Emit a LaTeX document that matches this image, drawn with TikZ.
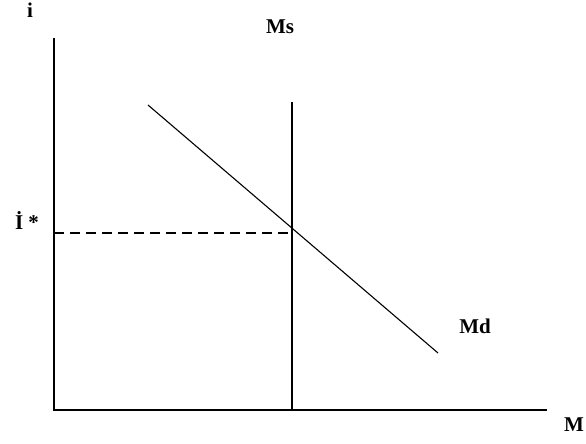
\documentclass[tikz,border=0pt]{standalone}
\usepackage{fontspec}
\setmainfont{Liberation Serif}
\begin{document}
\begin{tikzpicture}[x=1pt,y=-1pt,
  axis/.style={line width=1.3pt,black},
  curve/.style={line width=1.1pt,black},
  lbl/.style={font=\fontsize{21}{23}\selectfont\bfseries,inner sep=0pt}]
\useasboundingbox (0,0) rectangle (586,444);
\coordinate (O) at (54,410);
\coordinate (ytop) at (54,38);
\coordinate (xend) at (547,410);
\coordinate (mstop) at (292,102);
\coordinate (msbot) at (292,410);
\coordinate (eq) at (292,233);
\coordinate (ieq) at (54,233);
\coordinate (mda) at (148,105);
\coordinate (mdb) at (438,353);
\draw[axis] (ytop) -- (O) -- (xend);
\draw[curve] (mstop) -- (msbot);
\draw[curve] (mda) -- (mdb);
\draw[curve,dash pattern=on 10pt off 6pt] (ieq) -- (eq);
\node[lbl] (li) at (30,10) {i};
\node[lbl] (lms) at (280,27) {Ms};
\node[lbl] (lis) at (27,221) {İ *};
\node[lbl] (lmd) at (475,326) {Md};
\node[lbl] (lm) at (574,425) {M};
\end{tikzpicture}
\end{document}
